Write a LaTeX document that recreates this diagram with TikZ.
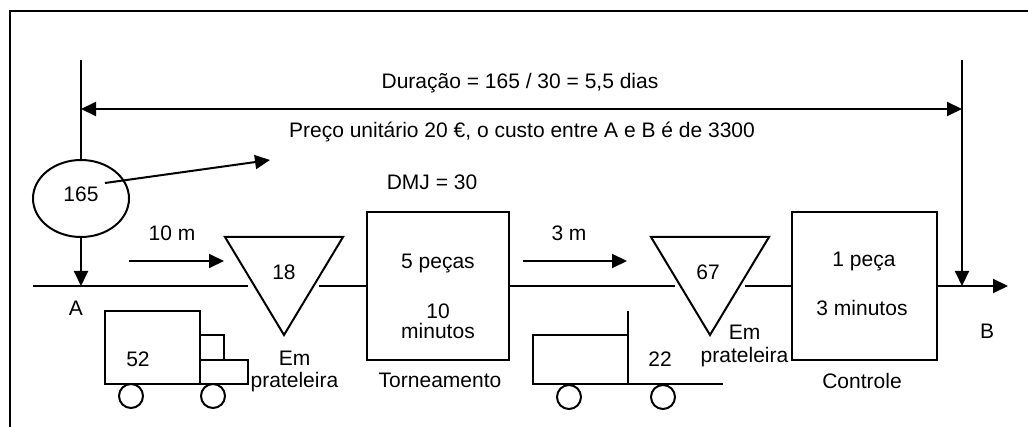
\documentclass[tikz,border=0pt]{standalone}
\usepackage{fontspec}
\setmainfont{Liberation Sans}
\usetikzlibrary{arrows.meta,shapes.geometric,positioning}

\begin{document}
\begin{tikzpicture}[x=0.5pt,y=-0.5pt,line width=1pt,
    >={Triangle[length=7.5pt,width=7pt]},
    every node/.style={font=\fontsize{10.5}{11.25}\selectfont,inner sep=0pt},
    txt/.style={anchor=base},
    proc/.style={draw,minimum width=71pt,minimum height=74pt},
    wheel/.style={draw,circle,minimum size=12pt}]
    \useasboundingbox (0,0) rectangle (1028,427);

    % Frame
    \draw (10,427) -- (10,11) -- (1028,11);

    % Stock at A and lead time span
    \node[draw,ellipse,minimum width=48pt,minimum height=38.5pt] (stock) at (81,198.5) {};
    \node[txt] (stocknum) at (81,201.7) {165};
    \coordinate (topA) at (81,60);
    \coordinate (topB) at (962,60);
    \coordinate (A) at (81,286);
    \coordinate (B) at (962,286);
    \coordinate (durA) at (81,109);
    \coordinate (durB) at (962,109);
    \coordinate (costin) at (105,183);
    \coordinate (cost) at (270,160);

    \draw (topA) -- (stock.north);
    \draw[->] (stock.south) -- (A);
    \draw[->] (topB) -- (B);
    \draw[<->] (durA) -- (durB);
    \draw[->] (costin) -- (cost);

    \node[txt] (dur) at (520,88.3) {Duração = 165 / 30 = 5,5 dias};
    \node[txt] (preco) at (522,137.5) {Preço unitário 20 €, o custo entre A e B é de 3300};
    \node[txt] (dmj) at (432,190) {DMJ = 30};

    % Main flow line
    \coordinate (start) at (33,286);
    \coordinate (end) at (1008,286);
    \coordinate (s1in) at (248,286);
    \coordinate (s1out) at (319,286);
    \coordinate (s2in) at (675,286);
    \coordinate (s2out) at (745,286);
    \node[proc] (torn) at (438,286) {};
    \node[proc,minimum width=72.5pt] (ctrl) at (864.5,286) {};

    \draw (start) -- (s1in);
    \draw (s1out) -- (torn.west);
    \draw (torn.east) -- (s2in);
    \draw (s2out) -- (ctrl.west);
    \draw[->] (ctrl.east) -- (end);

    \node[txt] (lblA) at (76,315) {A};
    \node[txt] (lblB) at (987,338) {B};

    % Shelf stocks
    \draw (225,237) -- (343,237) -- (284,335) -- cycle;
    \node[txt] (s1) at (284,280) {18};
    \node[align=center] (s1lbl) at (294.5,371.7) {Em\\prateleira};
    \draw (651,237) -- (769,237) -- (710,335) -- cycle;
    \node[txt] (s2) at (708,280) {67};
    \node[align=center] (s2lbl) at (744.5,346) {Em\\prateleira};

    % Process boxes
    \node[txt] (torn1) at (438,268.3) {5 peças};
    \node[align=center] (torn2) at (438,321.5) {10\\[-1pt]minutos};
    \node[txt] (tornlbl) at (440,387) {Torneamento};
    \node[txt] (ctrl1) at (864,267) {1 peça};
    \node[txt] (ctrl2) at (862,315.7) {3 minutos};
    \node[txt] (ctrllbl) at (862,388) {Controle};

    % Transport distances
    \coordinate (m1a) at (129,261);
    \coordinate (m1b) at (224,261);
    \coordinate (m2a) at (523,261);
    \coordinate (m2b) at (627,261);
    \node[txt] (dist1) at (172,240.7) {10 m};
    \draw[->] (m1a) -- (m1b);
    \node[txt] (dist2) at (569,241) {3 m};
    \draw[->] (m2a) -- (m2b);

    % Truck
    \draw (105,311) rectangle (200,384);
    \draw (200,335) rectangle (224,360);
    \draw (200,360) rectangle (248,384);
    \node[wheel] (w1) at (131,396) {};
    \node[wheel] (w2) at (213,396) {};
    \node[txt] (truck) at (138,366) {52};

    % Forklift
    \draw (628,311) -- (628,384);
    \draw (628,335) -- (533,335) -- (533,384) -- (723,384);
    \node[wheel] (w3) at (569,397) {};
    \node[wheel] (w4) at (663,397) {};
    \node[txt] (fork) at (660,366) {22};
\end{tikzpicture}
\end{document}
